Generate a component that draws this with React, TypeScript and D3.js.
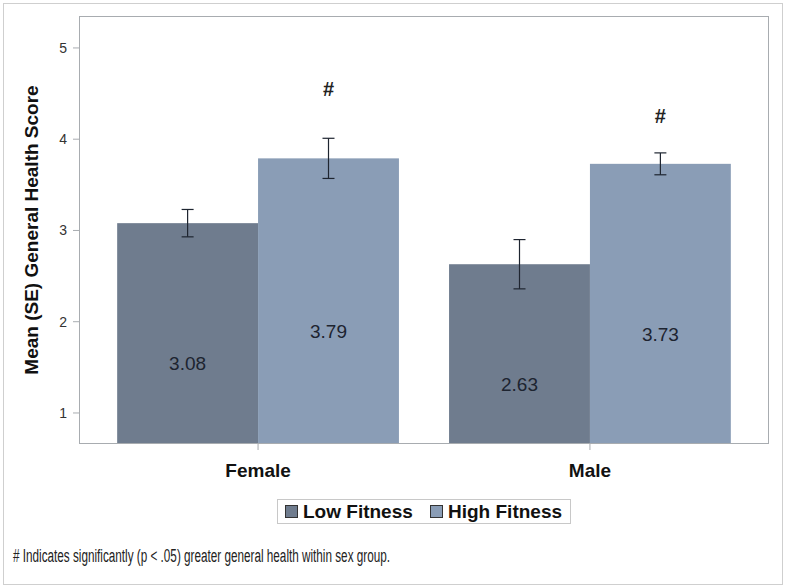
import React from "react";
import * as d3 from "d3";

const categories = ["Female", "Male"];
const groups = ["Low Fitness", "High Fitness"];
const lowMeans = [3.08, 2.63];
const highMeans = [3.79, 3.73];
const lowSE = [0.15, 0.27];
const highSE = [0.22, 0.12];
const sigMarkerY = [4.55, 4.25];
const yTicks = [1, 2, 3, 4, 5];
const colors = ["#6f7c8e", "#8a9db6"];

const W = 787;
const H = 588;
const plot = { left: 79, right: 769, top: 16, bottom: 444 };
const FONT = "'Liberation Sans', Arial, Helvetica, sans-serif";

export default function App() {
  const y = d3.scaleLinear().domain([0.66, 5.35]).range([plot.bottom, plot.top]);
  const x = d3
    .scaleBand<string>()
    .domain(categories)
    .range([plot.left, plot.right])
    .paddingInner(0.151)
    .paddingOuter(0.115);
  const xs = d3.scaleBand<string>().domain(groups).range([0, x.bandwidth()]).padding(0);

  const rows = categories.flatMap((c, i) => [
    { cat: c, g: groups[0], v: lowMeans[i], se: lowSE[i], color: colors[0] },
    { cat: c, g: groups[1], v: highMeans[i], se: highSE[i], color: colors[1] },
  ]);

  const legendX = 277;
  const legendY = 499;

  return (
    <svg
      width={W}
      height={H}
      style={{ position: "absolute", left: 0, top: 0, background: "#fff" }}
      fontFamily={FONT}
    >
      <rect x={3.5} y={3.5} width={779} height={581} fill="#fff" stroke="#cfcfcf" />
      {/* bars */}
      {rows.map((r, i) => {
        const bx = (x(r.cat) as number) + (xs(r.g) as number);
        const bw = xs.bandwidth();
        return (
          <rect
            key={"b" + i}
            x={bx}
            y={y(r.v)}
            width={bw}
            height={plot.bottom - y(r.v)}
            fill={r.color}
          />
        );
      })}
      {/* error bars */}
      {rows.map((r, i) => {
        const cx = (x(r.cat) as number) + (xs(r.g) as number) + xs.bandwidth() / 2;
        const y1 = y(r.v + r.se);
        const y2 = y(r.v - r.se);
        return (
          <g key={"e" + i} stroke="#1e2530" strokeWidth={1.2}>
            <line x1={cx} x2={cx} y1={y1} y2={y2} />
            <line x1={cx - 6} x2={cx + 6} y1={y1} y2={y1} />
            <line x1={cx - 6} x2={cx + 6} y1={y2} y2={y2} />
          </g>
        );
      })}
      {/* value labels */}
      {rows.map((r, i) => {
        const cx = (x(r.cat) as number) + (xs(r.g) as number) + xs.bandwidth() / 2;
        return (
          <text
            key={"v" + i}
            x={cx}
            y={y(r.v / 2)}
            dy="0.35em"
            textAnchor="middle"
            fontSize={19}
            fill="#1d2430"
          >
            {r.v.toFixed(2)}
          </text>
        );
      })}
      {/* significance markers */}
      {categories.map((c, i) => {
        const cx = (x(c) as number) + (xs(groups[1]) as number) + xs.bandwidth() / 2;
        return (
          <text
            key={"s" + i}
            x={cx}
            y={y(sigMarkerY[i])}
            dy="0.35em"
            textAnchor="middle"
            fontSize={20}
            fontWeight="bold"
            fill="#222"
          >
            #
          </text>
        );
      })}
      {/* plot frame */}
      <rect
        x={plot.left + 0.5}
        y={plot.top + 0.5}
        width={plot.right - plot.left - 1}
        height={plot.bottom - plot.top - 1}
        fill="none"
        stroke="#a8acb0"
        strokeWidth={1}
      />
      {/* y ticks */}
      {yTicks.map((t) => (
        <g key={"t" + t}>
          <line x1={plot.left - 6} x2={plot.left} y1={y(t)} y2={y(t)} stroke="#a8acb0" />
          <text
            x={plot.left - 12}
            y={y(t)}
            dy="0.35em"
            textAnchor="end"
            fontSize={14}
            fill="#333"
          >
            {t}
          </text>
        </g>
      ))}
      {/* x ticks */}
      {categories.map((c) => {
        const cx = (x(c) as number) + x.bandwidth() / 2;
        return (
          <g key={"x" + c}>
            <line x1={cx} x2={cx} y1={plot.bottom} y2={plot.bottom + 6} stroke="#a8acb0" />
            <text
              x={cx}
              y={plot.bottom + 26}
              dy="0.35em"
              textAnchor="middle"
              fontSize={19}
              fontWeight="bold"
              fill="#111"
            >
              {c}
            </text>
          </g>
        );
      })}
      {/* y axis title */}
      <text
        transform={`translate(31, ${(plot.top + plot.bottom) / 2}) rotate(-90)`}
        textAnchor="middle"
        dy="0.35em"
        fontSize={19}
        fontWeight="bold"
        fill="#111"
      >
        Mean (SE) General Health Score
      </text>
      {/* legend */}
      <rect
        x={legendX + 0.5}
        y={legendY + 0.5}
        width={293}
        height={24}
        fill="#fff"
        stroke="#c8c8c8"
      />
      {groups.map((g, i) => {
        const off = i === 0 ? 8 : 153;
        return (
          <g key={"l" + g}>
            <rect
              x={legendX + off + 0.5}
              y={legendY + 6.5}
              width={12}
              height={12}
              fill={colors[i]}
              stroke="#333"
            />
            <text
              x={legendX + off + 18}
              y={legendY + 12.5}
              dy="0.35em"
              fontSize={19}
              fontWeight="bold"
              fill="#111"
            >
              {g}
            </text>
          </g>
        );
      })}
      {/* footnote */}
      <text
        x={13}
        y={562}
        fontSize={18}
        fill="#222"
        textLength={377}
        lengthAdjust="spacingAndGlyphs"
      >
        # Indicates significantly (p &lt; .05) greater general health within sex group.
      </text>
    </svg>
  );
}
